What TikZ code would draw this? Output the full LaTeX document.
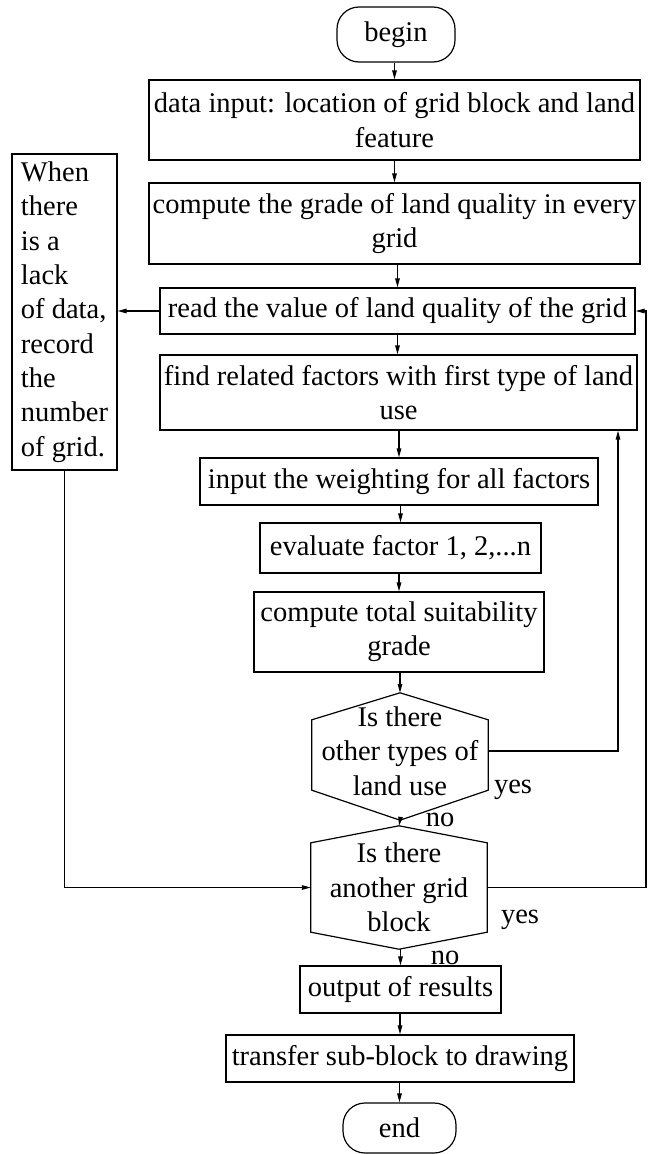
\documentclass[tikz,border=0pt]{standalone}
\usepackage{fontspec}
\setmainfont{Liberation Serif}
\usetikzlibrary{arrows.meta,calc}
\tikzset{
  ln/.style={line width=1.2pt},
  arr/.style={ln, -{Triangle[length=9pt,width=4.5pt]}},
  procbox/.style={draw, line width=1.2pt, inner sep=0pt, align=center},
  term/.style={draw, line width=1.2pt, inner sep=0pt, rounded corners=22pt},
  decbox/.style={inner sep=0pt, align=center},
  lbl/.style={inner sep=0pt},
}
\begin{document}
\begin{tikzpicture}[x=1pt,y=-1pt,font=\fontsize{28.5}{34.3}\selectfont]
\useasboundingbox (0,0) rectangle (649,1154);
\fill[white] (0,0) rectangle (649,1154);

% nodes
\node[term, minimum width=118pt, minimum height=55pt] (begin) at (396,34.5) {begin};
\node[procbox, minimum width=491pt, minimum height=80pt] (b1) at (394.5,120) {data input: location of grid block and land\\feature};
\node[procbox, minimum width=491pt, minimum height=81pt] (b2) at (394.5,223.5) {compute the grade of land quality in every\\grid};
\node[procbox, minimum width=475pt, minimum height=46pt] (read) at (397.5,311) {read the value of land quality of the grid};
\node[procbox, minimum width=477pt, minimum height=75pt] (find) at (398.5,392.5) {find related factors with first type of land\\use};
\node[procbox, minimum width=398pt, minimum height=47pt] (weight) at (399,481.5) {input the weighting for all factors};
\node[procbox, minimum width=281pt, minimum height=50pt] (eval) at (400.5,548) {evaluate factor 1, 2,...n};
\node[procbox, minimum width=290pt, minimum height=80pt] (total) at (399,632) {compute total suitability\\grade};
\node[decbox, minimum width=176pt, minimum height=116pt] (h1) at (400,751) {Is there\\other types of\\land use};
\node[decbox, minimum width=176pt, minimum height=123pt] (h2) at (399,887.5) {Is there\\another grid\\block};
\node[procbox, minimum width=201pt, minimum height=47pt] (out) at (400.5,989.5) {output of results};
\node[procbox, minimum width=348pt, minimum height=47pt] (trans) at (400,1058.5) {transfer sub-block to drawing};
\node[term, minimum width=113pt, minimum height=50pt] (end) at (399.5,1128) {end};
\node[draw, line width=1.2pt, inner sep=0pt, align=left, minimum width=105pt, minimum height=316pt] (when) at (64.5,312)
  {When\\there\\is a\\lack\\of data,\\record\\the\\number\\of grid.};

% hexagon outlines
\coordinate (h1b) at ([yshift=-11pt]h1.south);
\draw[ln] (h1.north) -- ([yshift=-27pt]h1.north east) -- ([yshift=19pt]h1.south east)
  -- (h1b) -- ([yshift=19pt]h1.south west) -- ([yshift=-27pt]h1.north west) -- cycle;
\draw[ln] (h2.north) -- ([yshift=-17pt]h2.north east) -- ([yshift=17pt]h2.south east)
  -- (h2.south) -- ([yshift=17pt]h2.south west) -- ([yshift=-17pt]h2.north west) -- cycle;

% labels
\node[lbl] (yes1) at (513,790) {yes};
\node[lbl] (no1) at (440,820) {no};
\node[lbl] (yes2) at (520,920) {yes};
\node[lbl] (no2) at (445,958) {no};

% loop coordinates
\coordinate (loopA) at (618,0);
\coordinate (loopB) at (646,0);

% main flow
\draw[arr] (begin.south -| b1.north) -- (b1.north);
\draw[arr] (b1.south) -- (b2.north);
\draw[arr] (read.north |- b2.south) -- (read.north);
\draw[arr] (read.south) -- (read.south |- find.north);
\draw[arr] (weight.north |- find.south) -- (weight.north);
\draw[arr] (eval.north |- weight.south) -- (eval.north);
\draw[arr] (total.north |- eval.south) -- (total.north);
\draw[arr] (h1.north |- total.south) -- (h1.north);
\draw[arr] (h1b) -- (h2.north);
\draw[arr] (out.north |- h2.south) -- (out.north);
\draw[arr] (trans.north |- out.south) -- (trans.north);
\draw[arr] (end.north |- trans.south) -- (end.north);

% side connections
\draw[arr] (h1.east) -| (loopA |- find.south);
\draw[arr] (h2.east) -| (loopB |- read.east) -- (read.east);
\draw[arr] (read.west) -- (read.west -| when.east);
\draw[arr] (when.south) |- (h2.west);
\end{tikzpicture}
\end{document}
